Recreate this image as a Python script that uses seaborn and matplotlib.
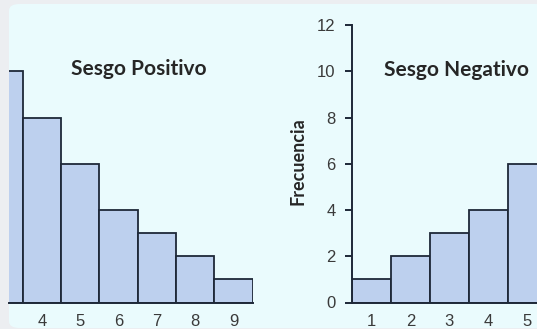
import matplotlib
matplotlib.use("Agg")
import matplotlib.pyplot as plt
from matplotlib.patches import FancyBboxPatch
import seaborn as sns

# datos de los dos histogramas (frecuencia por valor)
pos_valores = [3, 4, 5, 6, 7, 8, 9]
pos_frecuencia = [10, 8, 6, 4, 3, 2, 1]
neg_valores = [1, 2, 3, 4, 5, 6, 7]
neg_frecuencia = [1, 2, 3, 4, 6, 8, 10]
y_ticks = [0, 2, 4, 6, 8, 10, 12]

sns.set_style("white")
plt.rcParams['font.family'] = ['Liberation Sans', 'DejaVu Sans']

fondo = '#eafbfd'
barra = '#bdd0ee'
borde = '#1e2838'

W, H = 537, 329
fig = plt.figure(figsize=(W / 100, H / 100), dpi=100)
fig.patch.set_facecolor('#eceef1')

# recuadro redondeado de fondo
caja = FancyBboxPatch((9 / W, 1 / H), 1.0, (324 / H), boxstyle="round,pad=0,rounding_size=0.02",
                      transform=fig.transFigure, facecolor=fondo, edgecolor='none', zorder=-1)
fig.patches.append(caja)

bottom = (H - 302.5) / H
height = 277.5 / H
ax1 = fig.add_axes([9 / W, bottom, (252.7 - 9) / W, height])
ax2 = fig.add_axes([352.3 / W, bottom, (W - 352.3) / W, height])

sns.histplot(x=pos_valores, weights=pos_frecuencia, discrete=True, ax=ax1,
             color=barra, edgecolor=borde, linewidth=1.3, alpha=1)
sns.histplot(x=neg_valores, weights=neg_frecuencia, discrete=True, ax=ax2,
             color=barra, edgecolor=borde, linewidth=1.3, alpha=1)

for ax in (ax1, ax2):
    ax.set_facecolor('none')
    ax.set_ylim(0, 12)
    ax.set_xlabel('')
    ax.set_ylabel('')
    sns.despine(ax=ax, top=True, right=True)
    ax.spines['bottom'].set_color(borde)
    ax.spines['bottom'].set_linewidth(1.4)
    ax.tick_params(axis='x', length=0, pad=8, labelsize=12, labelcolor='#3a3a3a')
    ax.tick_params(axis='y', labelsize=12, labelcolor='#3a3a3a')

ax1.set_xlim(3.143, 9.5)
ax1.set_xticks([4, 5, 6, 7, 8, 9])
ax1.spines['left'].set_visible(False)
ax1.set_yticks([])

ax2.set_xlim(0.5, 0.5 + (W - 352.3) / 38.8)
ax2.set_xticks([1, 2, 3, 4, 5])
ax2.set_yticks(y_ticks)
ax2.spines['left'].set_color(borde)
ax2.spines['left'].set_linewidth(1.4)
ax2.tick_params(axis='y', left=True, length=5, width=1.4, color=borde, pad=7)

ax2.set_ylabel('Frecuencia', family=['Lato', 'DejaVu Sans'], fontweight='bold', fontsize=13)
ax2.yaxis.label.set_va('center')
ax2.yaxis.set_label_coords((298.3 - 352.3) / (W - 352.3), (302.5 - 161) / 277.5)

ax1.text((139 - 9) / 243.7, (302.5 - 69) / 277.5, 'Sesgo Positivo', transform=ax1.transAxes,
         ha='center', va='center', family=['Lato', 'DejaVu Sans'], fontweight='bold', fontsize=15)
ax2.text((456 - 352.3) / (W - 352.3), (302.5 - 70) / 277.5, 'Sesgo Negativo', transform=ax2.transAxes,
         ha='center', va='center', family=['Lato', 'DejaVu Sans'], fontweight='bold', fontsize=15)

fig.savefig('out.png', dpi=100, facecolor=fig.get_facecolor())
